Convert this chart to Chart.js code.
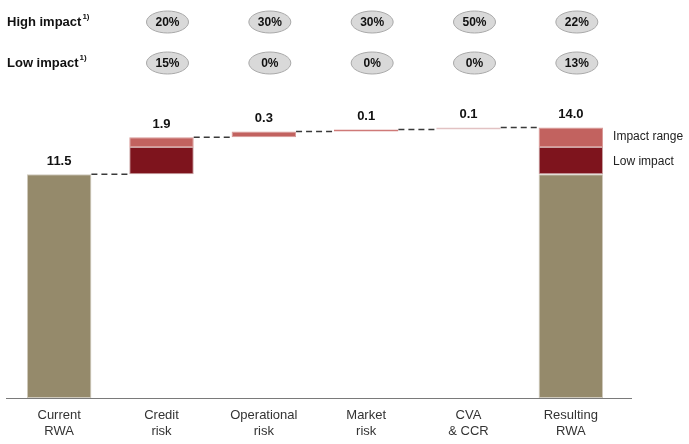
<!DOCTYPE html>
<html>
<head>
<meta charset="utf-8">
<script src="https://cdn.jsdelivr.net/npm/chart.js@4/dist/chart.umd.min.js"></script>
<style>
  body { margin: 0; background: #ffffff; }
  #wrap { width: 689px; height: 444px; }
</style>
</head>
<body>
<div id="wrap"><canvas id="rwaChart" width="689" height="444"></canvas></div>
<script>
// Chart data
const categories = [['Current', 'RWA'], ['Credit', 'risk'], ['Operational', 'risk'], ['Market', 'risk'], ['CVA', '& CCR'], ['Resulting', 'RWA']];
const baseRWA = [11.5, null, null, null, null, 11.5];
const lowImpact = [0, 1.4, 0, 0, 0, 1.4];
const impactRange = [0, 0.5, 0.3, 0.1, 0.1, 1.0];
const valueLabels = ['11.5', '1.9', '0.3', '0.1', '0.1', '14.0'];
const highImpactPct = ['20%', '30%', '30%', '50%', '22%'];
const lowImpactPct = ['15%', '0%', '0%', '0%', '13%'];

const FONT = "'Liberation Sans', Arial, sans-serif";
const BEIGE = '#958a6b';
const DARK_RED = '#7e141d';
const LIGHT_RED = '#c2625f';
const rangeColors = [LIGHT_RED, LIGHT_RED, LIGHT_RED, LIGHT_RED, '#d8aeb0', LIGHT_RED];
const rangeBorders = ['#d99a98', '#d99a98', '#d99a98', '#cf7a78', '#e2c2c3', '#d99a98'];

// Build floating bar ranges (waterfall)
const baseData = [], lowData = [], rangeData = [], tops = [];
let level = baseRWA[0];
categories.forEach((c, i) => {
    if (baseRWA[i] !== null) {
        baseData.push([0, baseRWA[i]]);
        const lowTop = baseRWA[i] + lowImpact[i];
        lowData.push(lowImpact[i] ? [baseRWA[i], lowTop] : null);
        rangeData.push(impactRange[i] ? [lowTop, lowTop + impactRange[i]] : null);
        tops.push(lowTop + impactRange[i]);
    } else {
        baseData.push(null);
        const lowTop = level + lowImpact[i];
        lowData.push(lowImpact[i] ? [level, lowTop] : null);
        rangeData.push([lowTop, lowTop + impactRange[i]]);
        level = lowTop + impactRange[i];
        tops.push(level);
    }
});

// Extra drawing: connectors, value labels, header pills, legend, axis line
const overlayPlugin = {
    id: 'overlay',
    afterDatasetsDraw(chart) {
        const ctx = chart.ctx;
        const x = chart.scales.x;
        const y = chart.scales.y;
        const area = chart.chartArea;
        const bars = chart.getDatasetMeta(0).data;
        const half = bars[0].width / 2;
        ctx.save();

        // baseline
        ctx.strokeStyle = '#7a7a7a';
        ctx.lineWidth = 1;
        ctx.beginPath();
        ctx.moveTo(area.left - 2, Math.round(area.bottom) + 0.5);
        ctx.lineTo(area.right + 10, Math.round(area.bottom) + 0.5);
        ctx.stroke();

        // dashed connectors
        ctx.strokeStyle = '#3a3a3a';
        ctx.setLineDash([6, 4]);
        ctx.lineWidth = 1.5;
        for (let i = 0; i < categories.length - 1; i++) {
            const yy = y.getPixelForValue(tops[i]);
            ctx.beginPath();
            ctx.moveTo(x.getPixelForValue(i) + half, yy);
            ctx.lineTo(x.getPixelForValue(i + 1) - half, yy);
            ctx.stroke();
        }
        ctx.setLineDash([]);

        // value labels
        ctx.fillStyle = '#111';
        ctx.font = 'bold 13px ' + FONT;
        ctx.textAlign = 'center';
        ctx.textBaseline = 'middle';
        valueLabels.forEach((v, i) => {
            ctx.fillText(v, x.getPixelForValue(i), y.getPixelForValue(tops[i]) - 13);
        });

        // header rows
        const rows = [['High impact', highImpactPct, 22], ['Low impact', lowImpactPct, 63]];
        rows.forEach(([title, pcts, yy]) => {
            ctx.fillStyle = '#111';
            ctx.font = 'bold 13px ' + FONT;
            ctx.textAlign = 'left';
            ctx.fillText(title, 7, yy);
            const w = ctx.measureText(title).width;
            ctx.font = 'bold 8px ' + FONT;
            ctx.fillText('1)', 7 + w + 1, yy - 5);
            pcts.forEach((p, j) => {
                const cx = x.getPixelForValue(j + 1) + 6;
                ctx.beginPath();
                ctx.ellipse(cx, yy, 21, 11, 0, 0, Math.PI * 2);
                ctx.fillStyle = '#d9d9d9';
                ctx.fill();
                ctx.strokeStyle = '#a9a9a9';
                ctx.lineWidth = 1;
                ctx.stroke();
                ctx.fillStyle = '#111';
                ctx.font = 'bold 12px ' + FONT;
                ctx.textAlign = 'center';
                ctx.fillText(p, cx, yy + 1);
            });
        });

        // legend next to the last bar
        const last = categories.length - 1;
        const lx = x.getPixelForValue(last) + half + 10;
        ctx.fillStyle = '#222';
        ctx.font = '12px ' + FONT;
        ctx.textAlign = 'left';
        ctx.fillText('Impact range', lx, y.getPixelForValue(baseRWA[last] + lowImpact[last] + impactRange[last] / 2) - 1);
        ctx.fillText('Low impact', lx, y.getPixelForValue(baseRWA[last] + lowImpact[last] / 2) + 1);
        ctx.restore();
    }
};

new Chart(document.getElementById('rwaChart'), {
    type: 'bar',
    data: {
        labels: categories,
        datasets: [
            { label: 'Current', data: baseData, backgroundColor: BEIGE, borderColor: '#cfcabd', borderWidth: 1, borderSkipped: false },
            { label: 'Low impact', data: lowData, backgroundColor: DARK_RED, borderColor: '#c9a3a3', borderWidth: 1, borderSkipped: false },
            { label: 'Impact range', data: rangeData, backgroundColor: rangeColors, borderColor: rangeBorders, borderWidth: 1, borderSkipped: false }
        ]
    },
    options: {
        responsive: false,
        animation: false,
        barPercentage: 0.63,
        categoryPercentage: 1.0,
        layout: { padding: { left: 8, right: 67, top: 89, bottom: 0 } },
        plugins: {
            legend: { display: false },
            tooltip: { enabled: false }
        },
        scales: {
            x: {
                stacked: true,
                grid: { display: false },
                border: { display: false },
                ticks: { color: '#333', font: { family: FONT, size: 13 }, padding: 2, maxRotation: 0 },
                afterFit(scale) { scale.height = 46; }
            },
            y: {
                stacked: false,
                display: false,
                min: 0,
                max: 15.88
            }
        }
    },
    plugins: [overlayPlugin]
});
</script>
</body>
</html>
